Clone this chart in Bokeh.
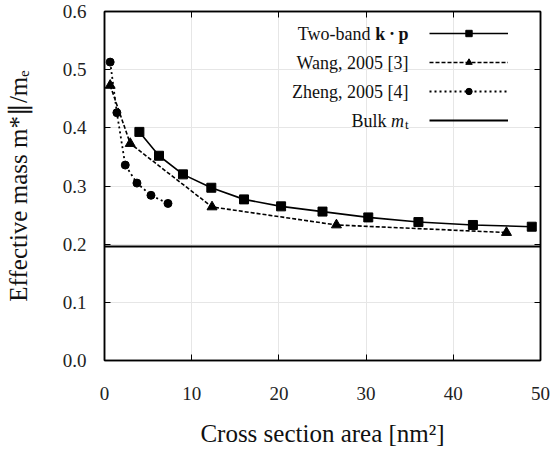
from bokeh.plotting import figure
from bokeh.models import (Range1d, LinearAxis, FixedTicker, Label, Legend,
                          LegendItem, PrintfTickFormatter, CustomJSTickFormatter)
from bokeh.core.properties import value
from bokeh.embed import file_html
from bokeh.resources import INLINE

# ---------------- data ----------------
kp_area = [4.0, 6.25, 9.0, 12.25, 16.0, 20.25, 25.0, 30.25, 36.0, 42.25, 49.0]
kp_mass = [0.393, 0.352, 0.320, 0.297, 0.277, 0.265, 0.256, 0.246, 0.238, 0.233, 0.230]

wang_area = [0.65, 2.95, 12.33, 26.6, 46.1]
wang_mass = [0.473, 0.373, 0.264, 0.233, 0.220]

zheng_area = [0.65, 1.42, 2.38, 3.72, 5.33, 7.28]
zheng_mass = [0.513, 0.426, 0.336, 0.305, 0.284, 0.270]

bulk_mt = 0.196

x_ticks = [0, 10, 20, 30, 40, 50]
y_ticks = [0.0, 0.1, 0.2, 0.3, 0.4, 0.5, 0.6]
x_lim = (0, 50)
y_lim = (0.0, 0.6)

SERIF = "Liberation Serif"

p = figure(width=550, height=450,
           x_range=Range1d(*x_lim), y_range=Range1d(*y_lim),
           output_backend="svg", toolbar_location=None,
           min_border_left=104, min_border_right=10,
           min_border_top=11, min_border_bottom=90)

p.background_fill_color = "white"
p.border_fill_color = "white"
p.outline_line_color = "black"
p.outline_line_width = 1.5

# grid
for g in (p.xgrid, p.ygrid):
    g.grid_line_color = "#e6e6e6"
    g.grid_line_width = 1
p.xgrid.ticker = FixedTicker(ticks=x_ticks)
p.ygrid.ticker = FixedTicker(ticks=y_ticks)

def style_axis(ax, ticks, fmt=None):
    ax.ticker = FixedTicker(ticks=ticks)
    if fmt is None:
        ax.formatter = CustomJSTickFormatter(code="return ''")
        ax.major_label_standoff = 0
    else:
        ax.formatter = PrintfTickFormatter(format=fmt)
    ax.axis_line_color = "black"
    ax.axis_line_width = 1.5
    ax.major_tick_line_color = "black"
    ax.major_tick_line_width = 1
    ax.major_tick_in = 6
    ax.major_tick_out = 0
    ax.minor_tick_line_color = None
    ax.major_label_text_font = SERIF
    ax.major_label_text_font_size = "19px"
    ax.major_label_text_color = "#222222"

# bottom / left axes
xa = p.xaxis[0]
ya = p.yaxis[0]
style_axis(xa, x_ticks, "%d")
style_axis(ya, y_ticks, "%.1f")
xa.major_label_standoff = 26
ya.major_label_standoff = 18

xa.axis_label = "Cross section area [nm²]"
xa.axis_label_text_font = SERIF
xa.axis_label_text_font_size = "25px"
xa.axis_label_text_font_style = "normal"
xa.axis_label_text_color = "#111111"
xa.axis_label_standoff = 17

ya.axis_label = "Effective mass m*∥/mₑ"
ya.axis_label_text_font = SERIF
ya.axis_label_text_font_size = "25px"
ya.axis_label_text_font_style = "normal"
ya.axis_label_text_color = "#111111"
ya.axis_label_standoff = 28

# mirrored axes (top/right) with inward ticks, no labels
top_ax = LinearAxis()
right_ax = LinearAxis()
style_axis(top_ax, x_ticks)
style_axis(right_ax, y_ticks)
p.add_layout(top_ax, "above")
p.add_layout(right_ax, "right")

# ---------------- data series ----------------
bulk_line = p.line(x=list(x_lim), y=[bulk_mt, bulk_mt], line_color="black", line_width=2)

kp_line = p.line(kp_area, kp_mass, line_color="black", line_width=1.6)
kp_pts = p.scatter(kp_area, kp_mass, marker="square", size=9,
                   fill_color="black", line_color="black")

wang_line = p.line(wang_area, wang_mass, line_color="black", line_width=1.6,
                   line_dash="4 2")
wang_pts = p.scatter(wang_area, wang_mass, marker="triangle", size=10,
                     fill_color="black", line_color="black")

zheng_line = p.line(zheng_area, zheng_mass, line_color="black", line_width=1.8,
                    line_dash="2 3")
zheng_pts = p.scatter(zheng_area, zheng_mass, marker="circle", size=8,
                      fill_color="black", line_color="black")

# ---------------- legend (samples on the right, text on the left) ----------------
legend = Legend(items=[
    LegendItem(label=value(" "), renderers=[kp_line, kp_pts]),
    LegendItem(label=value(" "), renderers=[wang_line, wang_pts]),
    LegendItem(label=value(" "), renderers=[zheng_line, zheng_pts]),
    LegendItem(label=value(" "), renderers=[bulk_line]),
],
    location=(315, 220), orientation="vertical",
    glyph_width=79, glyph_height=16, label_height=20, label_width=0,
    label_standoff=0, spacing=9, padding=10, margin=0,
    border_line_alpha=0, background_fill_alpha=0,
    label_text_font_size="2px")
p.add_layout(legend)

xr, yr = x_lim[1], y_lim[1]
LEG_R = -132
rows = [22.7, 51.7, 80.7, 109.7]
LFS = "18px"

def add_label(text, xo, yo, size, style="normal", align="right"):
    p.add_layout(Label(x=xr, y=yr, x_offset=xo, y_offset=yo, text=text,
                       text_font=SERIF, text_font_size=size,
                       text_font_style=style, text_align=align,
                       text_baseline="alphabetic", text_color="#111111"))

add_label("k\u2009·\u2009p", LEG_R, -rows[0], LFS, style="bold")
add_label("Two-band", LEG_R - 38, -rows[0], LFS)
add_label("Wang, 2005 [3]", LEG_R, -rows[1], LFS)
add_label("Zheng, 2005 [4]", LEG_R, -rows[2], LFS)
add_label("t", LEG_R, -rows[3] - 3, "13px")
add_label("m", LEG_R - 4.5, -rows[3], LFS, style="italic")
add_label("Bulk", LEG_R - 22, -rows[3], LFS)

open("out.html", "w").write(file_html(p, INLINE))
